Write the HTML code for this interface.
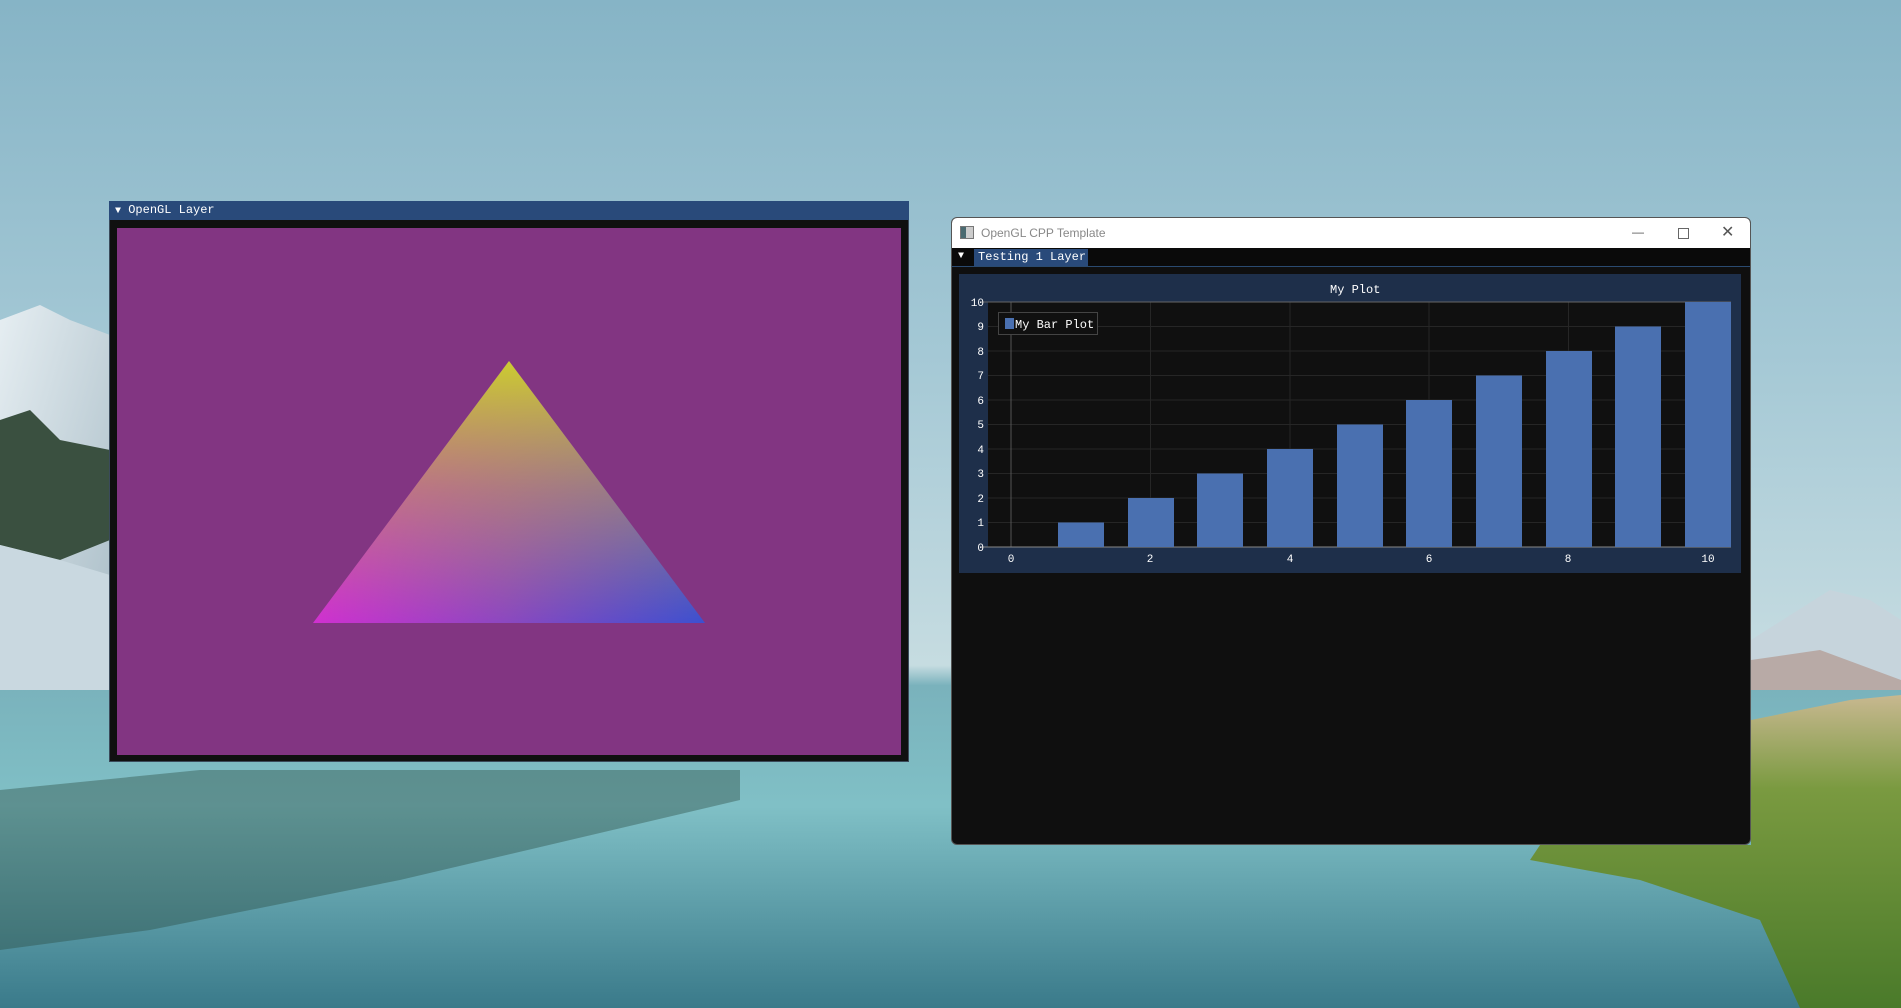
<!DOCTYPE html>
<html><head><meta charset="utf-8"><style>
body{margin:0;width:1901px;height:1008px;overflow:hidden;position:relative;font-family:"Liberation Mono",monospace;}
.abs{position:absolute}
</style></head><body>
<svg class="abs" style="left:0;top:0" width="1901" height="1008">
<defs>
<linearGradient id="sky" x1="0" y1="0" x2="0" y2="1">
<stop offset="0" stop-color="#86b4c6"/><stop offset="0.35" stop-color="#a4c8d5"/><stop offset="0.66" stop-color="#c6dce1"/><stop offset="0.68" stop-color="#7ab2bc"/><stop offset="0.8" stop-color="#80c0c6"/><stop offset="1" stop-color="#3a7a8a"/>
</linearGradient>
<linearGradient id="snow" x1="0" y1="0" x2="1" y2="1"><stop offset="0" stop-color="#e6eef2"/><stop offset="1" stop-color="#a8bcc6"/></linearGradient>
<linearGradient id="grass" x1="0" y1="0" x2="0" y2="1"><stop offset="0" stop-color="#c8b890"/><stop offset="0.3" stop-color="#7a9a40"/><stop offset="1" stop-color="#4a7a2a"/></linearGradient>
<linearGradient id="tg1" x1="0" y1="0" x2="1" y2="0"><stop offset="0" stop-color="#d030d0"/><stop offset="0.5" stop-color="#8a48c0"/><stop offset="1" stop-color="#3c50d0"/></linearGradient>
<linearGradient id="tg2" x1="0" y1="0" x2="0" y2="1"><stop offset="0" stop-color="#cccc30" stop-opacity="1"/><stop offset="0.5" stop-color="#c8a050" stop-opacity="0.55"/><stop offset="1" stop-color="#c8a050" stop-opacity="0"/></linearGradient>
</defs>
<rect width="1901" height="1008" fill="url(#sky)"/>
<polygon points="0,320 40,305 70,320 110,335 110,690 0,690" fill="url(#snow)"/>
<polygon points="0,420 30,410 60,440 110,450 110,540 60,560 0,545" fill="#3a5040"/>
<polygon points="0,545 60,560 110,575 110,690 0,690" fill="#c9d8e0"/>
<polygon points="0,790 200,770 500,770 740,770 740,800 400,880 150,930 0,950" fill="#2a4a40" opacity="0.4"/>
<polygon points="1751,640 1830,590 1870,600 1901,620 1901,690 1751,690" fill="#c6d4dc"/>
<polygon points="1751,660 1820,650 1901,680 1901,690 1751,690" fill="#b8aaa6"/>
<polygon points="1751,720 1850,700 1901,695 1901,1008 1800,1008 1760,920 1640,880 1530,860 1540,845 1751,845" fill="url(#grass)"/>
</svg>

<!-- OpenGL Layer window -->
<div class="abs" style="left:109px;top:201px;width:800px;height:561px;background:#101010;border:1px solid #3a4a5a;box-sizing:border-box"></div>
<div class="abs" style="left:109px;top:201px;width:800px;height:19px;background:#294a7a;color:#fff;font-size:12px;line-height:19px"><span style="margin-left:6px;font-size:10px">▼</span> OpenGL Layer</div>
<div class="abs" style="left:117px;top:228px;width:784px;height:527px;background:#823582"></div>
<svg class="abs" style="left:0;top:0" width="1901" height="1008">
<polygon points="509,361 313,623 705,623" fill="url(#tg1)"/>
<polygon points="509,361 313,623 705,623" fill="url(#tg2)"/>
</svg>

<!-- Right window -->
<div class="abs" style="left:951px;top:217px;width:800px;height:628px;background:#0f0f0f;border-radius:6px;border:1px solid #555;box-sizing:border-box;overflow:hidden">
 <div style="height:30px;background:#fff;position:relative;color:#888;font-family:'Liberation Sans',sans-serif;font-size:12px;line-height:30px">
  <div class="abs" style="left:8px;top:8px;width:12px;height:11px;border:1px solid #777;background:linear-gradient(90deg,#4a6a70 40%,#ccc 40%)"></div>
  <span style="margin-left:29px">OpenGL CPP Template</span>
  <span class="abs" style="left:680px;top:-1px;color:#555">—</span>
  <div class="abs" style="left:726px;top:10px;width:9px;height:9px;border:1px solid #666"></div>
  <span class="abs" style="left:769px;top:0;color:#555;font-size:16px">✕</span>
 </div>
 <div style="height:18px;background:#0a0a0a;border-bottom:1px solid #2a4a70;position:relative">
  <span class="abs" style="left:6px;top:3px;color:#fff;font-size:10px">▼</span>
  <div class="abs" style="left:22px;top:1px;width:114px;height:17px;background:#294a7a;color:#fff;font-size:12px;line-height:17px;padding-left:4px;box-sizing:border-box">Testing 1 Layer</div>
 </div>
</div>
<div class="abs" style="left:959px;top:274px;width:782px;height:299px;background:#1e2f4a"></div>
<div class="abs" style="left:1330px;top:283px;color:#fff;font-size:12px">My Plot</div>
<svg class="abs" style="left:0;top:0" width="1901" height="1008" font-family="Liberation Mono, monospace" font-size="11" fill="#fff">
<rect x="988" y="302" width="743" height="245" fill="#101010"/>
<g stroke="#262626" stroke-width="1">
<line x1="988" y1="326.5" x2="1731" y2="326.5"/><line x1="988" y1="351" x2="1731" y2="351"/><line x1="988" y1="375.5" x2="1731" y2="375.5"/><line x1="988" y1="400" x2="1731" y2="400"/><line x1="988" y1="424.5" x2="1731" y2="424.5"/><line x1="988" y1="449" x2="1731" y2="449"/><line x1="988" y1="473.5" x2="1731" y2="473.5"/><line x1="988" y1="498" x2="1731" y2="498"/><line x1="988" y1="522.5" x2="1731" y2="522.5"/>
<line x1="1150.5" y1="302" x2="1150.5" y2="547"/><line x1="1290" y1="302" x2="1290" y2="547"/><line x1="1429" y1="302" x2="1429" y2="547"/><line x1="1568.5" y1="302" x2="1568.5" y2="547"/>
</g>
<line x1="1011" y1="302" x2="1011" y2="547" stroke="#555"/>
<line x1="980" y1="302" x2="1731" y2="302" stroke="#666"/>
<line x1="980" y1="547" x2="1731" y2="547" stroke="#888"/>
<g fill="#4a70b0">
<rect x="1058" y="522.5" width="46" height="24.5"/>
<rect x="1128" y="498" width="46" height="49"/>
<rect x="1197" y="473.5" width="46" height="73.5"/>
<rect x="1267" y="449" width="46" height="98"/>
<rect x="1337" y="424.5" width="46" height="122.5"/>
<rect x="1406" y="400" width="46" height="147"/>
<rect x="1476" y="375.5" width="46" height="171.5"/>
<rect x="1546" y="351" width="46" height="196"/>
<rect x="1615" y="326.5" width="46" height="220.5"/>
<rect x="1685" y="302" width="46" height="245"/>
</g>
<rect x="998.5" y="312.5" width="99" height="22" fill="#101010" stroke="#444"/>
<rect x="1005" y="318" width="9" height="11" fill="#4a70b0"/>
<text x="1015" y="328" font-size="12">My Bar Plot</text>
<g text-anchor="end">
<text x="984" y="306">10</text><text x="984" y="330">9</text><text x="984" y="355">8</text><text x="984" y="379">7</text><text x="984" y="404">6</text><text x="984" y="428">5</text><text x="984" y="453">4</text><text x="984" y="477">3</text><text x="984" y="502">2</text><text x="984" y="526">1</text><text x="984" y="551">0</text>
</g>
<g text-anchor="middle">
<text x="1011" y="562">0</text><text x="1150" y="562">2</text><text x="1290" y="562">4</text><text x="1429" y="562">6</text><text x="1568" y="562">8</text><text x="1708" y="562">10</text>
</g>
</svg>
</body></html>
